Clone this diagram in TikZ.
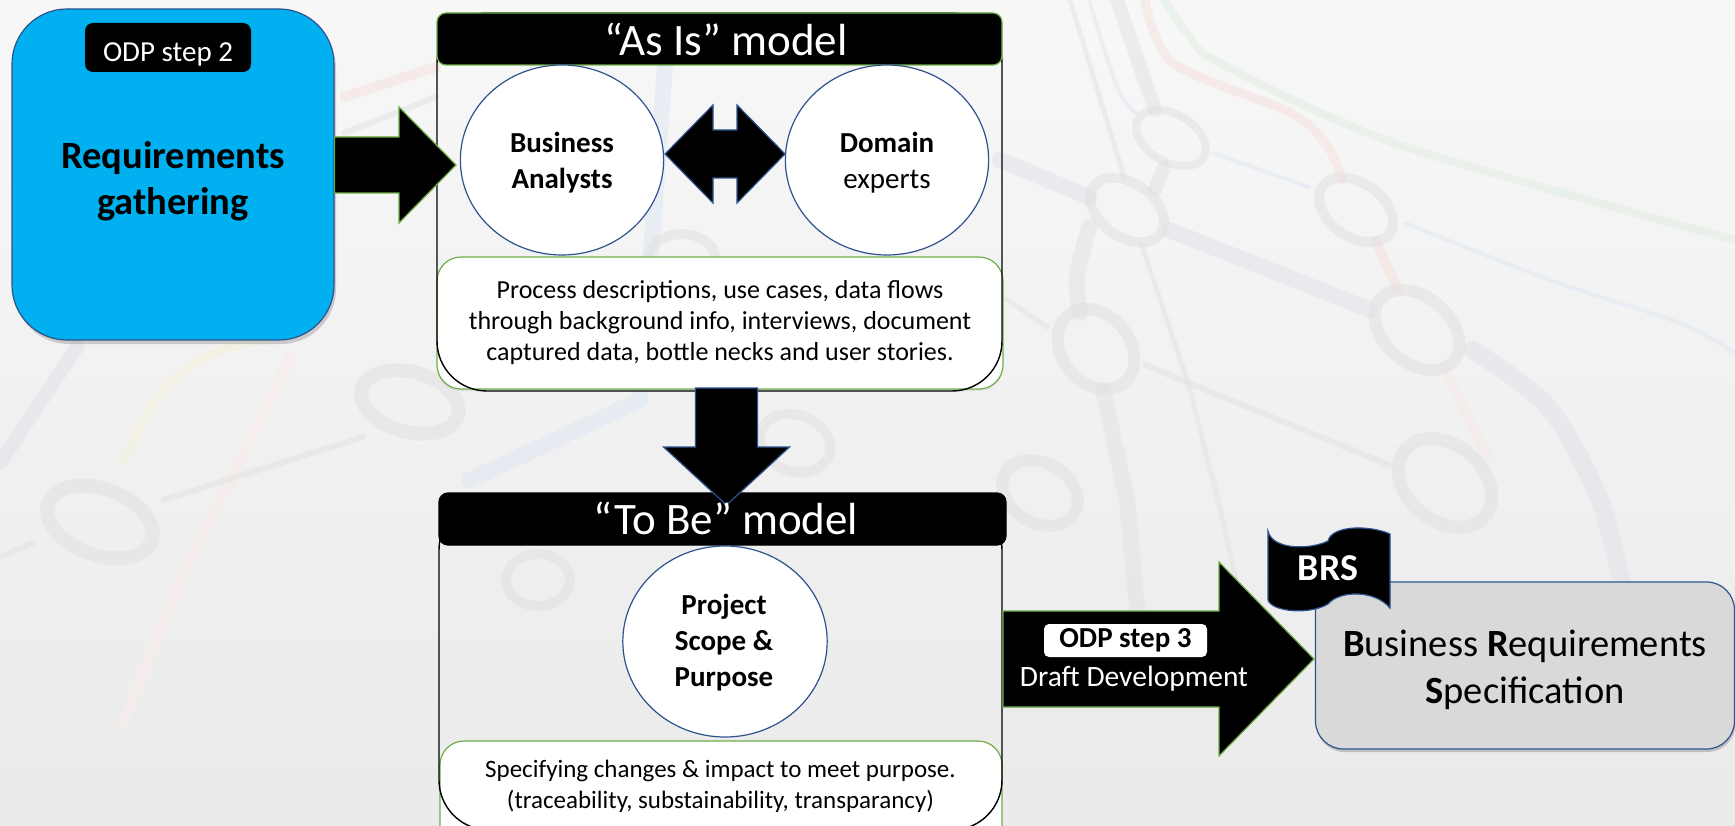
\documentclass[tikz,border=0pt]{standalone}
\usepackage{fontspec}
\setmainfont{Carlito}
\usetikzlibrary{calc,shadows}
\definecolor{linkb}{HTML}{2F528F}
\definecolor{linkg}{HTML}{70AD47}
\definecolor{reqblue}{HTML}{00B0F0}
\definecolor{brsgray}{HTML}{D9D9D9}
\definecolor{ringc}{HTML}{E0E0E0}
\definecolor{mapg}{HTML}{E0EEE0}
\definecolor{mapr}{HTML}{F5E0DA}
\definecolor{mapb}{HTML}{DCE8F2}
\definecolor{mapl}{HTML}{E0E0EA}
\definecolor{mapy}{HTML}{F5F0D8}
\definecolor{mapk}{HTML}{E2E2E2}
% src, tip, half shaft, half head, head length
\newcommand{\blockarrow}[6]{
 \coordinate (base) at ($(#3)!#6pt!(#2)$);
 \draw [#1] ($(#2)!#4pt!90:(#3)$) -- ($(base)!#4pt!-90:(#2)$) -- ($(base)!#5pt!-90:(#2)$)
  -- (#3) -- ($(base)!#5pt!90:(#2)$) -- ($(base)!#4pt!90:(#2)$) -- ($(#2)!#4pt!-90:(#3)$) -- cycle;
}
\begin{document}
\begin{tikzpicture}[x=1pt,y=-1pt]
 \tikzset{
  circ/.style={circle, draw=linkb, fill=white, line width=1.2pt, inner sep=0pt},
  bar/.style={rounded corners=9pt, fill=black, line width=1.2pt, minimum width=#1, minimum height=52pt},
  info/.style={rounded corners=24pt, draw=linkg, fill=white, line width=1.2pt,
   drop shadow={shadow xshift=0pt, shadow yshift=-2pt, opacity=.15}},
  shell/.style={rounded corners=50pt, draw=black, line width=1.4pt},
  barg/.style={fill=black, draw=linkg, line width=1.2pt},
  barb/.style={fill=black, draw=linkb, line width=1.2pt},
  map/.style={line width=#1, line cap=round},
  ring/.style={draw=ringc, line width=#1},
  big/.style={font=\fontsize{38.5}{46}\selectfont\bfseries, align=center},
  mid/.style={font=\fontsize{29}{36}\selectfont\bfseries, align=center},
  head/.style={font=\fontsize{45}{50}\selectfont, text=white}
 }
 \useasboundingbox (0,0) rectangle (1735,826);
 \shade [top color=white!97!black, bottom color=black!8] (0,0) rectangle (1735,826);

 % subway map behind everything
 \begin{scope}[opacity=.5]
 \draw [map=8pt, mapg] plot [smooth] coordinates {(1164,0) (1187,33) (1220,63) (1400,145) (1735,240)};
 \draw [map=9pt, mapr] plot [smooth] coordinates {(1145,0) (1173,63) (1291,113) (1328,147) (1342,180)};
 \draw [map=10pt, mapr] (1375,240) -- (1398,290);
 \draw [map=10pt, mapr!70!white] (1445,370) -- (1488,457);
 \draw [map=4pt, mapb] (1213,153) -- (1309,187);
 \draw [map=4pt, mapb] plot [smooth] coordinates {(1405,223) (1550,280) (1680,323) (1735,353)};
 \draw [map=16pt, mapl] (1000,160) -- (1089,197);
 \draw [map=16pt, mapl] (1169,230) -- (1370,310);
 \draw [map=18pt, mapl] plot [smooth] coordinates {(1473,350) (1548,407) (1600,500) (1625,600)};
 \draw [map=5pt, mapk] (1070,0) -- (1124,177);
 \draw [map=5pt, mapk] (1141,243) -- (1188,383) -- (1218,500) -- (1245,620);
 \draw [map=14pt, mapk] (1117,0) -- (1155,110);
 \draw [map=14pt, mapk] (1164,167) -- (1155,190);
 \draw [map=4pt, mapb] plot [smooth] coordinates {(1089,0) (1117,87) (1136,113)};
 \draw [map=16pt, mapk] plot [smooth] coordinates {(1089,227) (1077,277) (1080,313)};
 \draw [map=6pt, mapk] (1145,365) -- (1389,465);
 \draw [map=16pt, mapk] (1103,390) -- (1127,500) -- (1140,640);
 \draw [map=5pt, mapk] (1003,297) -- (1047,327);
 \draw [map=12pt, mapr!60!white] plot [smooth] coordinates {(290,357) (230,480) (177,590) (123,723)};
 \draw [map=8pt, mapy] plot [smooth] coordinates {(270,340) (213,353) (160,393) (123,463)};
 \draw [map=14pt, mapl] (77,347) -- (0,463);
 \draw [map=6pt, mapk] (363,437) -- (163,500);
 \draw [map=6pt, mapk] (33,543) -- (0,557);
 \draw [map=10pt, mapr] (344,97) -- (436,67);
 \draw [map=6pt, mapk] (344,133) -- (436,97);
 \draw [map=16pt, mapb] (665,65) -- (640,400) -- (470,480);
 \foreach \x/\y/\rx/\ry/\a/\w in {1171/138/38/24/-30/8, 1127/210/41/27/-35/10, 1356/210/41/27/-35/10,
   1417/330/48/33/-40/12, 1096/349/44/34/-50/12, 1445/483/52/38/-40/13, 1040/493/40/30/-30/12,
   100/522/55/33/-20/14, 410/402/50/30/-15/14, 682/260/34/26/0/10, 795/443/36/28/-20/10, 538/580/32/26/0/10}
  { \draw [ring=\w pt, shift={(\x,\y)}, rotate=\a] (0,0) ellipse ({\rx} and {\ry}); }
 \end{scope}

 % left box
 \node [rounded corners=55pt, draw=linkb, fill=reqblue, line width=1.2pt, minimum width=322pt, minimum height=331pt,
  drop shadow={shadow xshift=2pt, shadow yshift=-4pt, opacity=.35}] (req) at (173,174.5) {};
 \node [rounded corners=8pt, fill=black, minimum width=166pt, minimum height=49pt] (odptwo) at (168,47.5) {};
 \node [text=white, font=\fontsize{29}{34}\selectfont] (odptxt) at (168,54) {ODP step 2};
 \node [big] (reqtxt) at (173,181.5) {Requirements\\gathering};

 % as is
 \node [info, minimum width=566pt, minimum height=132pt] (asinfo) at (720,323) {};
 \node [shell, minimum width=565pt, minimum height=378pt] (asis) at (719.5,202) {};
 \node [bar=565pt, draw=linkg] (ashead) at (719.5,39) {};
 \node [head] (astxt) at (726,39) {“As Is” model};
 \node [circ, minimum size=190pt, xscale=1.07] (ba) at (562,160) {};
 \node [circ, minimum size=190pt, xscale=1.07] (de) at (887,160) {};
 \node [mid] (batxt) at (562,163) {Business\\Analysts};
 \node [mid] (detxt) at (887,163) {Domain\\\mdseries experts};
 \node [font=\fontsize{26}{31}\selectfont, align=center] (asdesc) at (720,323) {Process descriptions, use cases, data flows\\
  through background info, interviews, document\\captured data, bottle necks and user stories.};

 % to be
 \node [info, minimum width=562pt, minimum height=110pt] (tbinfo) at (721,796) {};
 \node [shell, minimum width=563pt, minimum height=330pt] (tobe) at (720.5,665) {};
 \node [bar=567pt, draw=black] (tbhead) at (722.5,519) {};
 \node [circ, minimum size=191pt, xscale=1.07] (psp) at (725,641.5) {};
 \node [mid] (psptxt) at (724,643) {Project\\Scope \&\\Purpose};
 \node [font=\fontsize{25}{31}\selectfont, align=center] (tbdesc) at (720.5,786) {Specifying changes \& impact to meet purpose.\\(traceability, substainability, transparancy)};

 % BRS
 \node [rounded corners=28pt, draw=linkb, fill=brsgray, line width=1.2pt, minimum width=419pt, minimum height=167pt,
  drop shadow={shadow xshift=1pt, shadow yshift=-3pt, opacity=.4}] (brs) at (1525,665.5) {};
 \node [font=\fontsize{38.5}{47}\selectfont, align=center] (brstxt) at (1525,670)
  {\textbf{B}usiness \textbf{R}equirements\\\textbf{S}pecification};
 \draw [barb] (1268,531) .. controls (1272,550) and (1310,550) .. (1328,541) .. controls (1332,525) and (1370,525) .. (1390,534)
  -- (1390,608) .. controls (1375,590) and (1340,590) .. (1328,604) .. controls (1310,615) and (1272,612) .. (1268,600) -- cycle;
 \node [font=\fontsize{38}{40}\selectfont\bfseries, text=white] (flag) at (1328,568) {BRS};

 % arrows
 \coordinate (tipa) at (456,165);
 \blockarrow{barg}{req.east |- tipa}{tipa}{28}{58}{57}
 \coordinate (tipb) at (726.5,505);
 \coordinate (srcb) at (726.5,388);
 \blockarrow{barb}{srcb}{tipb}{31}{63}{58}
 \coordinate (tipc) at (1314,659);
 \coordinate (srcc) at (1003,659);
 \blockarrow{barg}{srcc}{tipc}{48}{97}{95}
 \draw [barb] (665,154) -- (713,105) -- (713,130) -- (737,130) -- (737,105) -- (785,154)
  -- (737,203) -- (737,178) -- (713,178) -- (713,203) -- cycle;

 \node [head] (tbtxt) at (726,518) {“To Be” model};
 \node [rounded corners=5pt, fill=white, minimum width=163pt, minimum height=33pt, inner sep=0pt,
  font=\fontsize{29}{30}\selectfont\bfseries] (odpthree) at (1125.5,640.5) {ODP step 3};
 \node [text=white, font=\fontsize{29.5}{30}\selectfont] (draft) at (1134,679) {Draft Development};
\end{tikzpicture}
\end{document}
